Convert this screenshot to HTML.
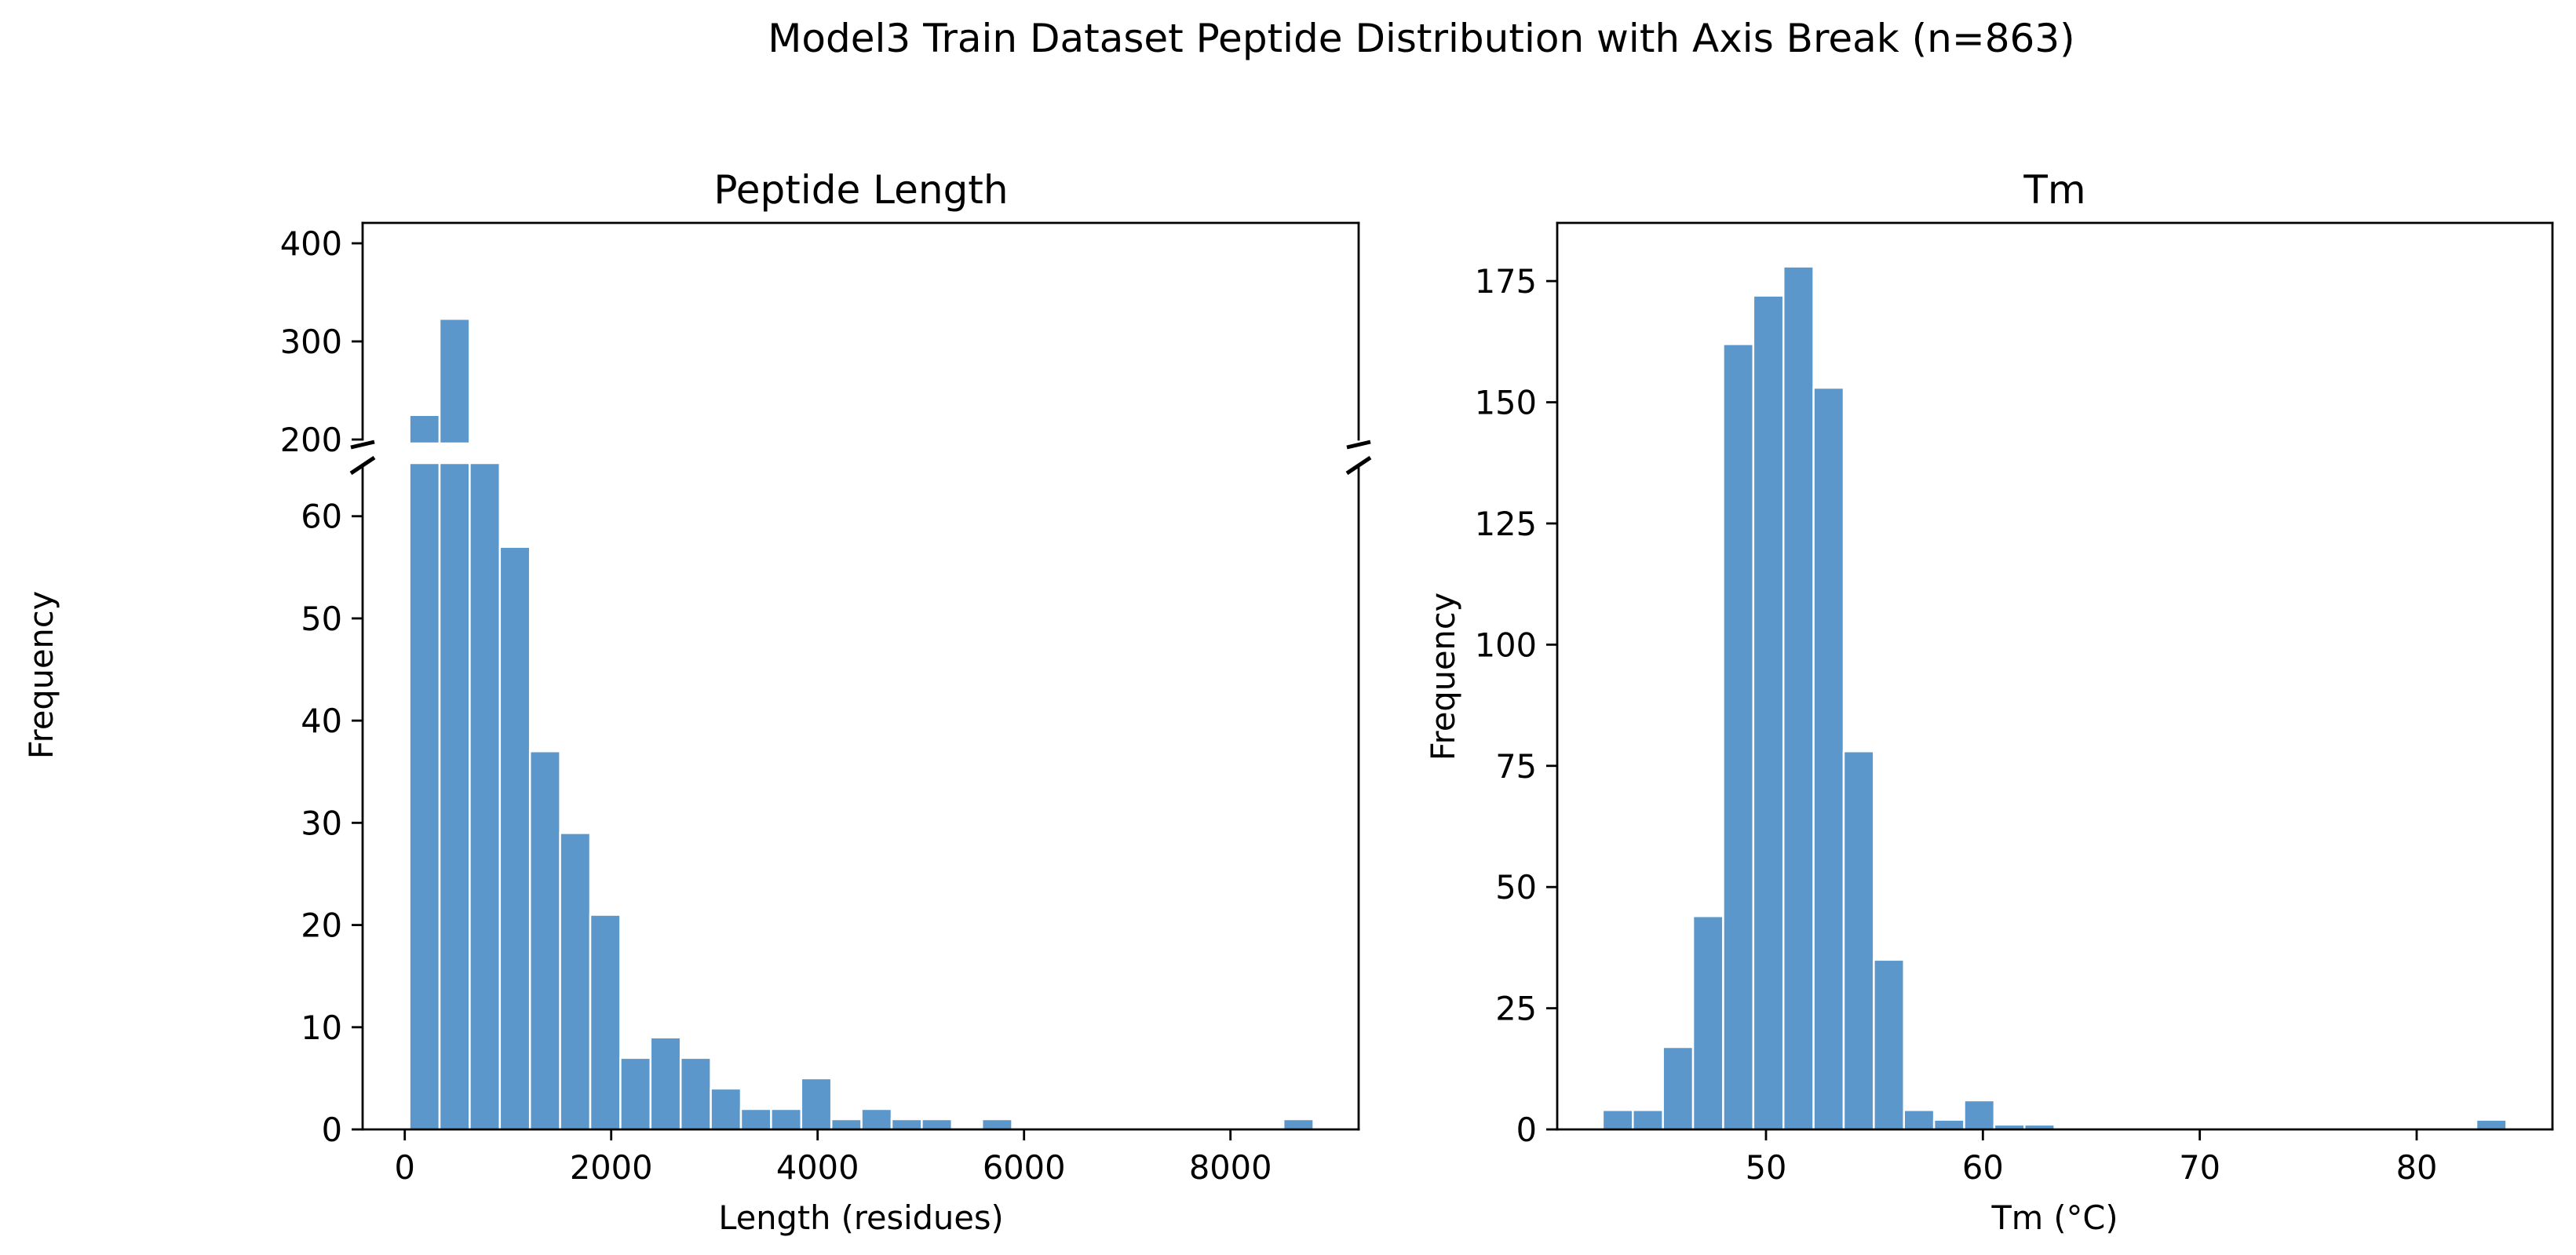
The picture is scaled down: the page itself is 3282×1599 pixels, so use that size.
<!DOCTYPE html>
<html><head><meta charset="utf-8"><style>
html,body{margin:0;padding:0;background:#fff;}
svg{display:block;font-family:"DejaVu Sans","Liberation Sans",sans-serif;}
</style></head><body>
<svg id="fig" width="3282" height="1599" viewBox="0 0 3282 1599" xmlns="http://www.w3.org/2000/svg">
<rect width="3282" height="1599" fill="#fff"/>
<text x="1811" y="66" font-size="50" text-anchor="middle">Model3 Train Dataset Peptide Distribution with Axis Break (n=863)</text>
<text x="1097" y="259" font-size="50" text-anchor="middle">Peptide Length</text>
<text x="2618" y="259" font-size="50" text-anchor="middle">Tm</text>
<text transform="translate(67,860) rotate(-90)" font-size="41.5" text-anchor="middle">Frequency</text>
<text transform="translate(1853,862) rotate(-90)" font-size="41.5" text-anchor="middle">Frequency</text>
<text x="1097" y="1566" font-size="41.5" text-anchor="middle">Length (residues)</text>
<text x="2618" y="1566" font-size="41.5" text-anchor="middle">Tm (°C)</text>
<g id="gL"></g><g id="gR"></g>
</svg>
<script>
// Peptide length histogram data
const lenBinStart = 45;
const lenBinWidth = 292;
const lenCounts = [225,323,128,57,37,29,21,7,9,7,4,2,2,5,1,2,1,1,0,1,0,0,0,0,0,0,0,0,0,1];
const lenXTicks = [0,2000,4000,6000,8000];
const lenLowYTicks = [0,10,20,30,40,50,60];
const lenHighYTicks = [200,300,400];
// Tm histogram data
const tmBinStart = 42.47;
const tmBinWidth = 1.389;
const tmCounts = [4,4,17,44,162,172,178,153,78,35,4,2,6,1,1,0,0,0,0,0,0,0,0,0,0,0,0,0,0,2];
const tmXTicks = [50,60,70,80];
const tmYTicks = [0,25,50,75,100,125,150,175];

const NS="http://www.w3.org/2000/svg";
function mk(parent,tag,attrs){const e=document.createElementNS(NS,tag);for(const k in attrs)e.setAttribute(k,attrs[k]);parent.appendChild(e);return e;}
const COLOR="#5b97cb";
const L={x0:462,x1:1731};
const lowP={top:590,bot:1439,ymin:0,ymax:65.2};
const highP={top:284,bot:565,ymin:196,ymax:420.8};
const lx=v=>515.7+(v-0)*(1567.7-515.7)/8000;
const lyLow=v=>lowP.bot-(v-lowP.ymin)*(lowP.bot-lowP.top)/(lowP.ymax-lowP.ymin);
const lyHigh=v=>highP.bot-(v-highP.ymin)*(highP.bot-highP.top)/(highP.ymax-highP.ymin);
const gL=document.getElementById('gL');
lenCounts.forEach((c,i)=>{
  if(c<=0)return;
  const a=lx(lenBinStart+i*lenBinWidth), b=lx(lenBinStart+(i+1)*lenBinWidth);
  const topLow=lyLow(Math.min(c,lowP.ymax));
  const r=mk(gL,'rect',{x:a,y:topLow,width:b-a,height:lowP.bot-topLow,fill:COLOR,stroke:'#fff','stroke-width':2.5});
  
  
  if(c>highP.ymin){
    const t=lyHigh(Math.min(c,highP.ymax));
    const r2=mk(gL,'rect',{x:a,y:t,width:b-a,height:highP.bot-t,fill:COLOR,stroke:'#fff','stroke-width':2.5});
    
    
  }
});
const sp=(g,x1,y1,x2,y2,name)=>{const l=mk(g,'line',{x1,y1,x2,y2,stroke:'#000','stroke-width':2.8,'stroke-linecap':'square'});return l;};
sp(gL,L.x0,highP.top,L.x1,highP.top,'length-top-spine');
sp(gL,L.x0,highP.top,L.x0,highP.bot-5,'length-upper-left-spine');
sp(gL,L.x1,highP.top,L.x1,highP.bot-5,'length-upper-right-spine');
sp(gL,L.x0,lowP.top+3,L.x0,lowP.bot,'length-lower-left-spine');
sp(gL,L.x1,lowP.top+3,L.x1,lowP.bot,'length-lower-right-spine');
sp(gL,L.x0,lowP.bot,L.x1,lowP.bot,'length-x-axis-line');
[L.x0,L.x1].forEach((x,k)=>{
  const a=mk(gL,'line',{x1:x-15,y1:570,x2:x+15,y2:563,stroke:'#000','stroke-width':5});
  
  
  const b=mk(gL,'line',{x1:x-15,y1:603,x2:x+15,y2:583,stroke:'#000','stroke-width':5});
  
  
});
function ytick(g,y,x,label,name){
  const t=mk(g,'line',{x1:x-14,y1:y,x2:x,y2:y,stroke:'#000','stroke-width':2.8});
  
  
  const tx=mk(g,'text',{x:x-26,y:y+15,'font-size':41.5,'text-anchor':'end'});
  tx.textContent=label;
  
  
}
function xtick(g,x,y,label,name){
  const t=mk(g,'line',{x1:x,y1:y,x2:x,y2:y+14,stroke:'#000','stroke-width':2.8});
  
  
  const tx=mk(g,'text',{x:x,y:y+63,'font-size':41.5,'text-anchor':'middle'});
  tx.textContent=label;
  
  
}
lenLowYTicks.forEach(v=>ytick(gL,lyLow(v),L.x0,String(v),'length-y-low-'+v));
lenHighYTicks.forEach(v=>ytick(gL,lyHigh(v),L.x0,String(v),'length-y-high-'+v));
lenXTicks.forEach(v=>xtick(gL,lx(v),lowP.bot,String(v),'length-x-'+v));

const R={x0:1984,x1:3252,top:284,bot:1439,ymax:187};
const rx=v=>2250+(v-50)*(3079-2250)/30;
const ry=v=>R.bot-v*(R.bot-R.top)/R.ymax;
const gR=document.getElementById('gR');
tmCounts.forEach((c,i)=>{
  if(c<=0)return;
  const a=rx(tmBinStart+i*tmBinWidth), b=rx(tmBinStart+(i+1)*tmBinWidth);
  const t=ry(c);
  const r=mk(gR,'rect',{x:a,y:t,width:b-a,height:R.bot-t,fill:COLOR,stroke:'#fff','stroke-width':2.5});
  
  
});
sp(gR,R.x0,R.top,R.x1,R.top,'tm-top-spine');
sp(gR,R.x0,R.top,R.x0,R.bot,'tm-left-spine');
sp(gR,R.x1,R.top,R.x1,R.bot,'tm-right-spine');
sp(gR,R.x0,R.bot,R.x1,R.bot,'tm-x-axis-line');
tmYTicks.forEach(v=>ytick(gR,ry(v),R.x0,String(v),'tm-y-'+v));
tmXTicks.forEach(v=>xtick(gR,rx(v),R.bot,String(v),'tm-x-'+v));
</script>
</body></html>
